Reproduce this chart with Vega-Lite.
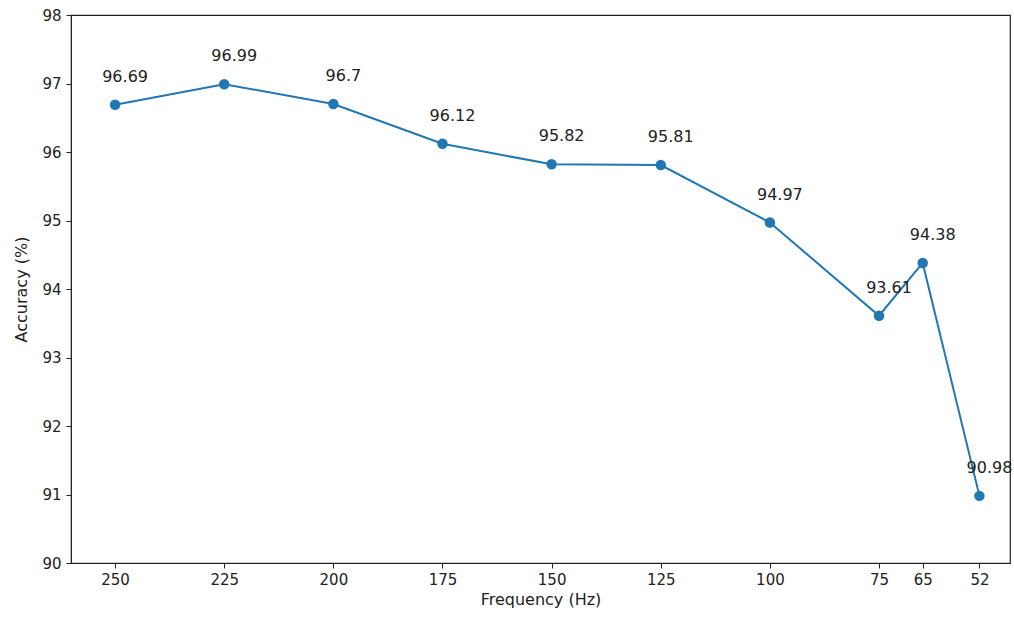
{
  "$schema": "https://vega.github.io/schema/vega-lite/v6.json",
  "width": 939,
  "height": 548,
  "autosize": {"type": "none"},
  "padding": {"left": 71, "top": 15, "right": 4, "bottom": 56},
  "background": "white",
  "config": {
    "view": {"stroke": "#222", "strokeWidth": 1.2},
    "font": "DejaVu Sans",
    "axis": {
      "grid": false,
      "domainColor": "#222",
      "tickColor": "#222",
      "tickSize": 5,
      "labelFont": "DejaVu Sans",
      "titleFont": "DejaVu Sans",
      "labelFontSize": 15,
      "titleFontSize": 16,
      "labelColor": "#222",
      "titleColor": "#222",
      "titleFontWeight": "normal"
    }
  },
  "data": {
    "values": [
      {"freq": 250, "acc": 96.69, "label": "96.69"},
      {"freq": 225, "acc": 96.99, "label": "96.99"},
      {"freq": 200, "acc": 96.7, "label": "96.7"},
      {"freq": 175, "acc": 96.12, "label": "96.12"},
      {"freq": 150, "acc": 95.82, "label": "95.82"},
      {"freq": 125, "acc": 95.81, "label": "95.81"},
      {"freq": 100, "acc": 94.97, "label": "94.97"},
      {"freq": 75, "acc": 93.61, "label": "93.61"},
      {"freq": 65, "acc": 94.38, "label": "94.38"},
      {"freq": 52, "acc": 90.98, "label": "90.98"}
    ]
  },
  "encoding": {
    "x": {
      "field": "freq",
      "type": "quantitative",
      "scale": {"domain": [45, 260.1], "reverse": true, "nice": false, "zero": false},
      "axis": {"values": [250, 225, 200, 175, 150, 125, 100, 75, 65, 52], "title": "Frequency (Hz)", "titlePadding": 4, "labelPadding": 4}
    },
    "y": {
      "field": "acc",
      "type": "quantitative",
      "scale": {"domain": [90, 98], "nice": false, "zero": false},
      "axis": {"values": [90, 91, 92, 93, 94, 95, 96, 97, 98], "title": "Accuracy (%)", "titlePadding": 12, "labelPadding": 5}
    }
  },
  "layer": [
    {"mark": {"type": "line", "color": "#1f77b4", "strokeWidth": 2}},
    {"mark": {"type": "point", "filled": true, "color": "#1f77b4", "opacity": 1, "size": 110}},
    {
      "mark": {"type": "text", "dx": 10, "dy": -20, "fontSize": 16, "color": "#222", "font": "DejaVu Sans", "baseline": "bottom"},
      "encoding": {"text": {"field": "label"}}
    }
  ]
}
